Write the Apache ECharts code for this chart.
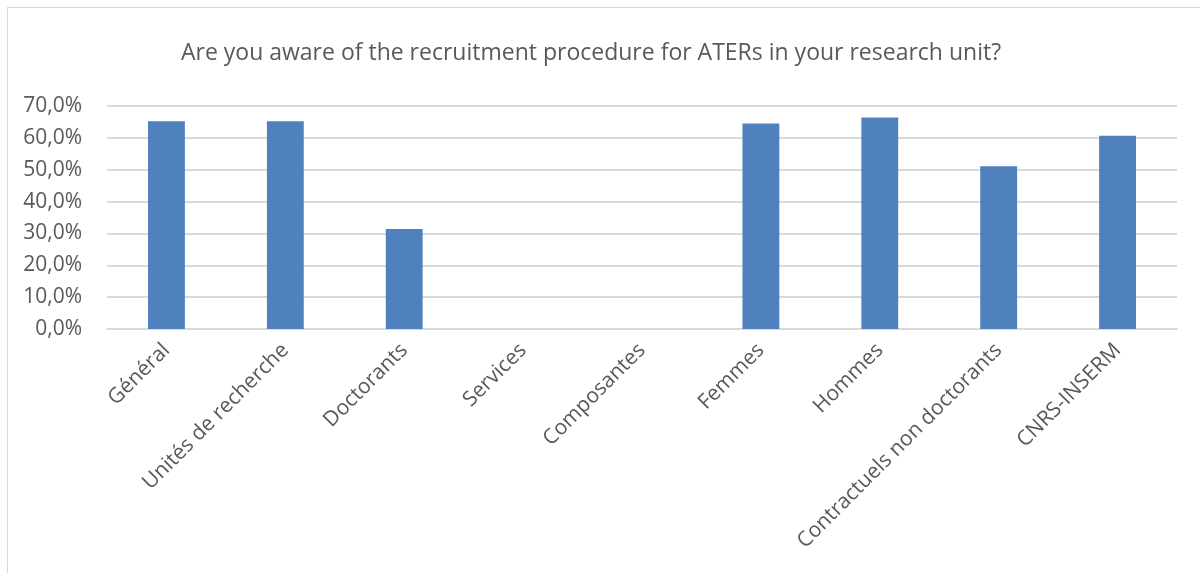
<!DOCTYPE html>
<html>
<head>
<meta charset="utf-8">
<script src="https://cdn.jsdelivr.net/npm/echarts@6/dist/echarts.min.js"></script>
<style>
  html, body { margin: 0; padding: 0; background: #fff; }
  #frame { position: absolute; left: 7px; top: 7px; width: 1250px; height: 650px; border: 1px solid #d9d9d9; }
  #chart { position: absolute; left: 0; top: 0; width: 1200px; height: 573px; }
</style>
</head>
<body>
<div id="frame"></div>
<div id="chart"></div>
<script>
var titleText = 'Are you aware of the recruitment procedure for ATERs in your research unit?';
var categories = ['Général', 'Unités de recherche', 'Doctorants', 'Services', 'Composantes',
    'Femmes', 'Hommes', 'Contractuels non doctorants', 'CNRS-INSERM'];
// pourcentages
var values = [65.2, 65.2, 31.4, 0, 0, 64.5, 66.4, 51.1, 60.7];

var myChart = echarts.init(document.getElementById('chart'));
var option = {
    animation: false,
    title: {
        text: titleText,
        left: 586,
        textAlign: 'center',
        top: 37,
        textStyle: {
            fontFamily: 'Open Sans',
            fontSize: 23,
            fontWeight: 'normal',
            color: '#595959'
        }
    },
    grid: {
        left: 107,
        right: 23,
        top: 106,
        bottom: 244,
        outerBoundsMode: 'none'
    },
    xAxis: {
        type: 'category',
        data: categories,
        axisLine: { lineStyle: { color: '#d9d9d9', width: 2 } },
        axisTick: { show: false },
        axisLabel: {
            rotate: 45,
            margin: 18,
            interval: 0,
            fontFamily: 'Open Sans',
            fontSize: 21,
            color: '#595959'
        }
    },
    yAxis: {
        type: 'value',
        min: 0,
        max: 70,
        interval: 10,
        axisLine: { show: false },
        axisTick: { show: false },
        splitLine: { lineStyle: { color: '#d9d9d9', width: 2 } },
        axisLabel: {
            margin: 25,
            fontFamily: 'Open Sans',
            fontSize: 21,
            color: '#595959',
            formatter: function (v) {
                return v.toFixed(1).replace('.', ',') + '%';
            }
        }
    },
    series: [{
        type: 'bar',
        data: values,
        barWidth: '31%',
        itemStyle: { color: '#4f81bd' }
    }]
};
myChart.setOption(option);
</script>
</body>
</html>
